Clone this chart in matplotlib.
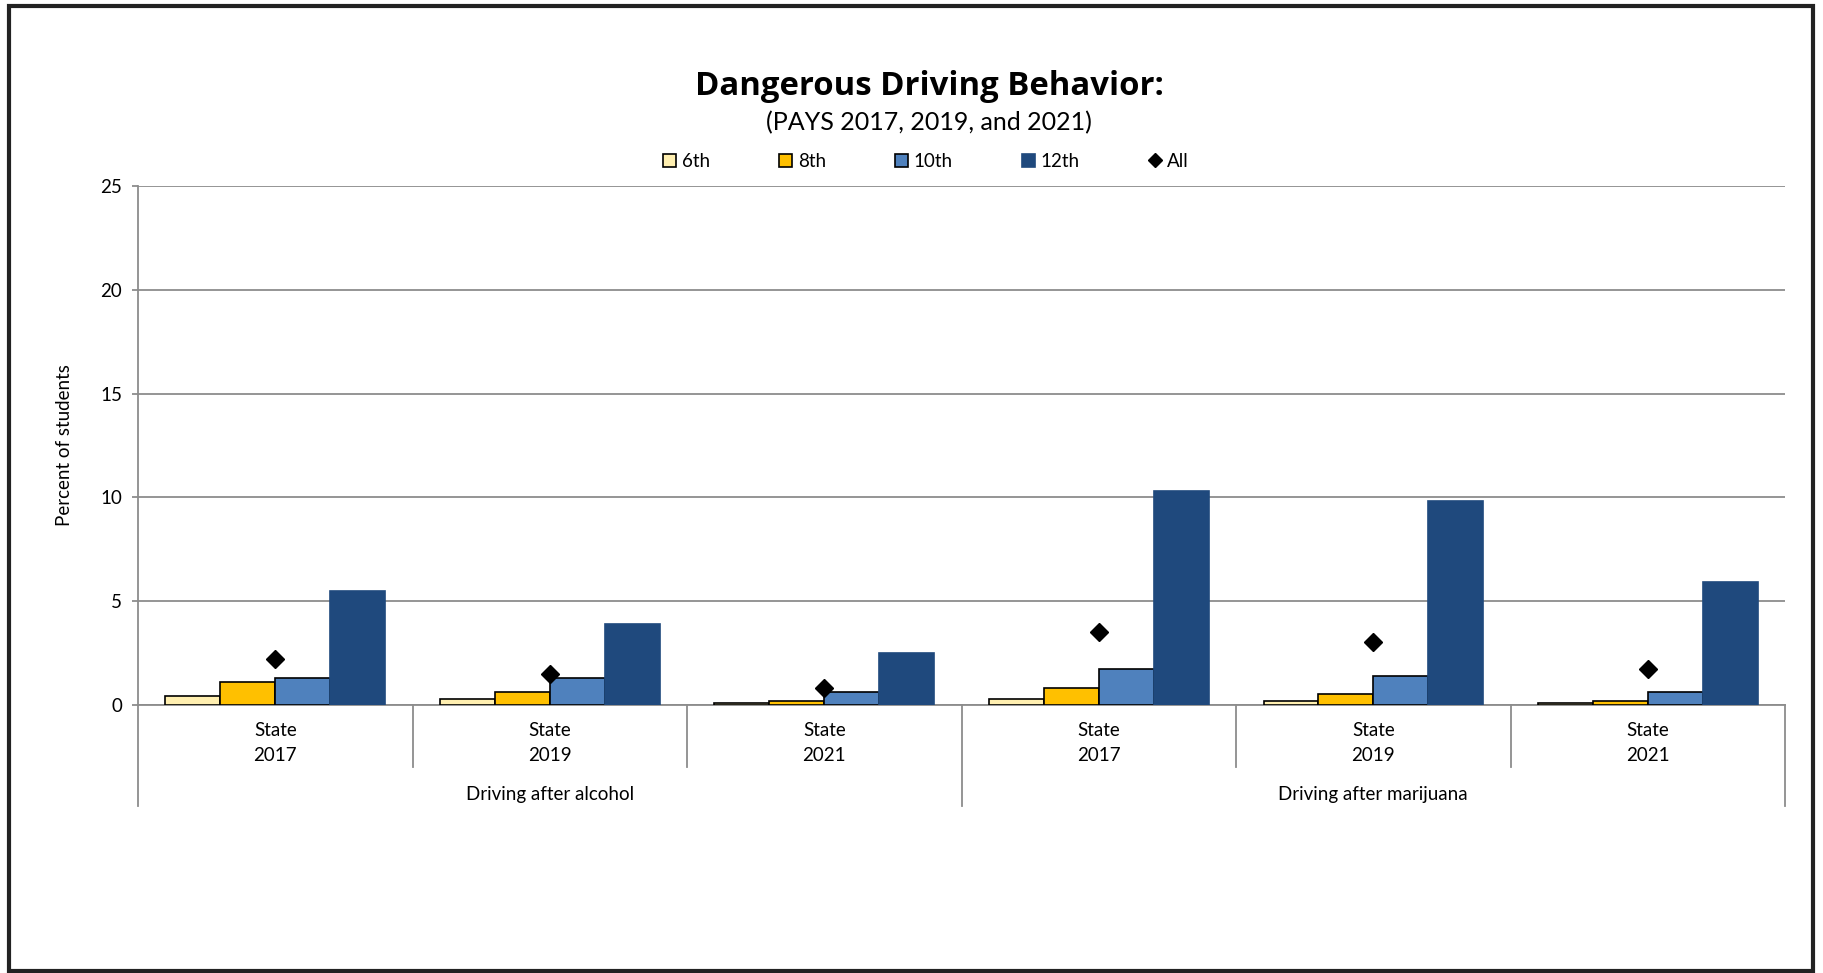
import numpy as np
import matplotlib.pyplot as plt
from matplotlib.patches import Rectangle
from matplotlib.lines import Line2D
import matplotlib.transforms as mtransforms

plt.rcParams['font.family'] = ['Lato', 'DejaVu Sans']

years = ['2017', '2019', '2021', '2017', '2019', '2021']
behaviors = ['Driving after alcohol', 'Driving after marijuana']
grade_labels = ['6th', '8th', '10th', '12th']
g6 = [0.4, 0.3, 0.1, 0.3, 0.2, 0.1]
g8 = [1.1, 0.6, 0.2, 0.8, 0.5, 0.2]
g10 = [1.3, 1.3, 0.6, 1.7, 1.4, 0.6]
g12 = [5.5, 3.9, 2.5, 10.3, 9.8, 5.9]
all_grades = [2.2, 1.5, 0.8, 3.5, 3.0, 1.7]

colors = ['#FFEFB0', '#FFC000', '#4F81BD', '#1F497D']
edges = ['black', 'black', 'black', '#1F497D']
fs = 13.5

fig = plt.figure(figsize=(18.23, 9.73), dpi=100)
ax = fig.add_axes([0.0757, 0.2757, 0.9035, 0.5331])

x = np.arange(len(years))
w = 0.2
handles = []
for i, vals in enumerate([g6, g8, g10, g12]):
    h = ax.bar(x + (i - 1.5) * w, vals, w, color=colors[i], edgecolor=edges[i],
               linewidth=1.2, label=grade_labels[i], zorder=3)
    handles.append(h)
h_all, = ax.plot(x, all_grades, 'D', color='black', markersize=9, label='All', zorder=4)
handles.append(h_all)

ax.set_xlim(-0.5, len(years) - 0.5)
ax.set_ylim(0, 25)
ax.set_yticks([0, 5, 10, 15, 20, 25])
ax.yaxis.grid(True, color='#8c8c8c', linewidth=1.3, zorder=0)
ax.tick_params(axis='y', labelsize=fs, length=4.5, width=1.3, color='#8c8c8c', pad=7)
ax.set_xticks([])
for s in ['top', 'right']:
    ax.spines[s].set_visible(False)
for s in ['left', 'bottom']:
    ax.spines[s].set_color('#8c8c8c')
    ax.spines[s].set_linewidth(1.3)
ax.set_ylabel('Percent of students', fontsize=fs)
ax.yaxis.set_label_coords(-0.0395, 0.5)

# category axis labels and separators
trans = mtransforms.blended_transform_factory(ax.transData, ax.transAxes)
for i, yr in enumerate(years):
    ax.text(i, -0.050, 'State', transform=trans, ha='center', va='center', fontsize=fs)
    ax.text(i, -0.098, yr, transform=trans, ha='center', va='center', fontsize=fs)
for b in np.arange(-0.5, len(years), 1.0):
    long_line = b in (-0.5, 2.5, len(years) - 0.5)
    y_end = -0.195 if long_line else -0.1195
    ax.add_line(Line2D([b, b], [0, y_end], transform=trans, color='#8c8c8c',
                       linewidth=1.3, clip_on=False))
for j, beh in enumerate(behaviors):
    ax.text(1 + 3 * j, -0.1735, beh, transform=trans, ha='center', va='center',
            fontsize=fs)

fig.text(0.5096, 0.911, 'Dangerous Driving Behavior:', ha='center', va='center',
         fontsize=23.7, fontweight='bold', family=['Open Sans', 'DejaVu Sans'])
fig.text(0.5096, 0.874, '(PAYS 2017, 2019, and 2021)', ha='center', va='center',
         fontsize=18)

fig.legend(handles, grade_labels + ['All'], loc='center', bbox_to_anchor=(0.508, 0.834),
           ncol=5, frameon=False, fontsize=fs, handlelength=0.7, handleheight=0.7,
           handletextpad=0.3, columnspacing=3.68, markerscale=0.8)

fig.add_artist(Rectangle((9 / 1823, 1 - 971 / 973), 1804 / 1823, 965 / 973,
                         transform=fig.transFigure, fill=False,
                         edgecolor='#222222', linewidth=3))

fig.savefig('out.png', dpi=100)
